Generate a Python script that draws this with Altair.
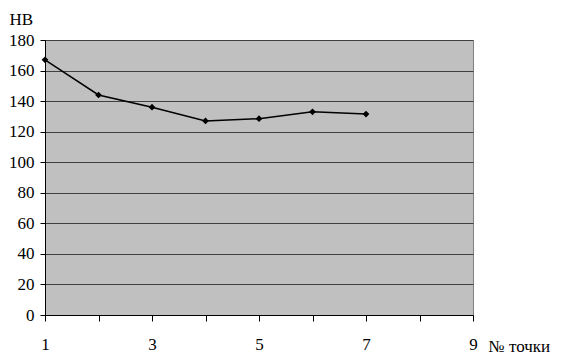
import altair as alt
import pandas as pd

points = [1, 2, 3, 4, 5, 6, 7]
hb = [167, 144, 136, 127, 128.5, 133, 131.5]
x_ticks = [1, 2, 3, 4, 5, 6, 7, 8, 9]
y_ticks = [0, 20, 40, 60, 80, 100, 120, 140, 160, 180]

df = pd.DataFrame({"point": points, "hb": hb})

FONT = "Liberation Serif"

base = alt.Chart(df).encode(
    x=alt.X(
        "point:Q",
        scale=alt.Scale(domain=[1, 9], nice=False, zero=False),
        axis=alt.Axis(
            values=x_ticks,
            labelExpr="datum.value % 2 == 1 ? datum.label : ''",
            labelOverlap=False,
            grid=False,
            domainColor="black",
            tickColor="black",
            tickSize=6,
            labelPadding=15,
            labelFont=FONT,
            labelFontSize=17,
            labelColor="black",
            labelFlush=False,
            title="№ точки",
            titleFont=FONT,
            titleFontSize=17,
            titleFontWeight="normal",
            titleColor="black",
            titleAlign="left",
            titleBaseline="middle",
            titleX=443,
            titleY=31,
        ),
    ),
    y=alt.Y(
        "hb:Q",
        scale=alt.Scale(domain=[0, 180], nice=False),
        axis=alt.Axis(
            values=y_ticks,
            labelOverlap=False,
            grid=True,
            gridColor="#404040",
            gridWidth=1,
            domainColor="black",
            tickColor="black",
            tickSize=5,
            labelPadding=6,
            labelFont=FONT,
            labelFontSize=17,
            labelColor="black",
            labelFlush=False,
            title="НВ",
            titleAngle=0,
            titleFont=FONT,
            titleFontSize=17,
            titleFontWeight="normal",
            titleColor="black",
            titleAlign="left",
            titleBaseline="middle",
            titleX=-36,
            titleY=-21,
        ),
    ),
)

line = base.mark_line(color="black", strokeWidth=1.5)
pts = base.mark_point(shape="diamond", filled=True, color="black", size=45, opacity=1)

chart = (
    (line + pts)
    .properties(
        width=428,
        height=275,
        autosize=alt.AutoSizeParams(type="none"),
        padding={"left": 37, "top": 32, "right": 97, "bottom": 40},
        background="white",
    )
    .configure_view(fill="#c0c0c0", stroke="#808080", strokeWidth=1)
)

chart.save("out.html", embed_options={"renderer": "svg", "actions": False})
